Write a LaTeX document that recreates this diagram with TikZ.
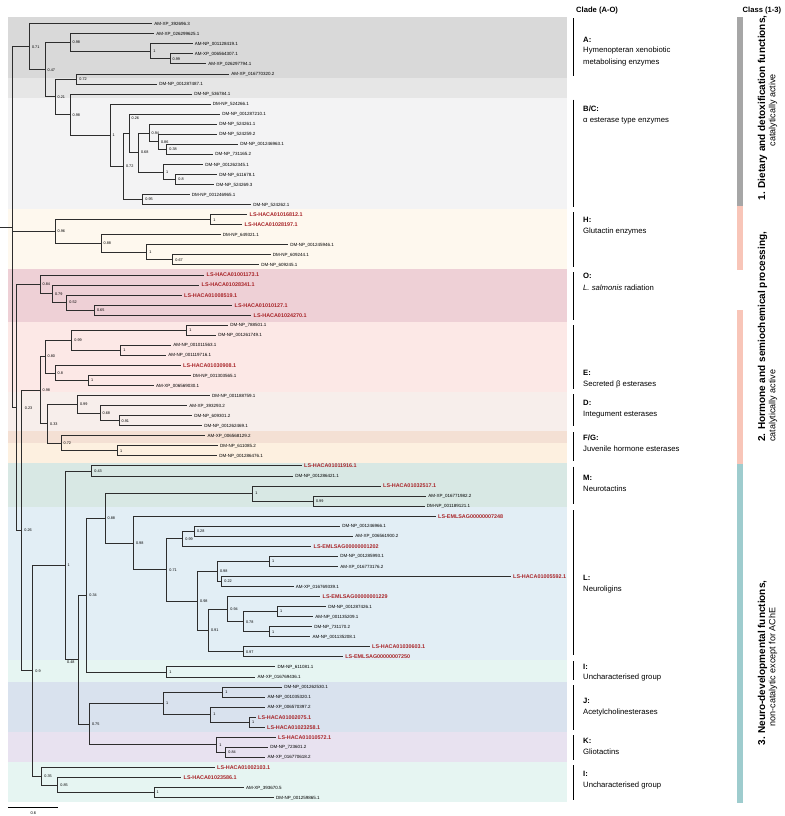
\documentclass[tikz,border=0pt]{standalone}
\usepackage{fontspec}
\setmainfont{Liberation Sans}
\definecolor{brc}{RGB}{45,45,45}
\definecolor{lsred}{RGB}{168,36,40}
\definecolor{bA}{RGB}{217,217,217}
\definecolor{bAm}{RGB}{230,230,230}
\definecolor{bBC}{RGB}{243,243,244}
\definecolor{bH}{RGB}{254,248,238}
\definecolor{bO}{RGB}{238,208,214}
\definecolor{bE}{RGB}{252,232,230}
\definecolor{bD}{RGB}{247,238,235}
\definecolor{bF}{RGB}{244,224,212}
\definecolor{bG}{RGB}{253,240,224}
\definecolor{bM}{RGB}{216,232,228}
\definecolor{bL}{RGB}{226,238,245}
\definecolor{bI}{RGB}{230,245,242}
\definecolor{bJ}{RGB}{217,226,238}
\definecolor{bK}{RGB}{232,226,240}
\definecolor{kgrey}{RGB}{166,166,166}
\definecolor{kpink}{RGB}{248,197,184}
\definecolor{kteal}{RGB}{158,204,206}
\tikzset{
  br/.style={draw=brc, line width=0.85pt},
  lb/.style={anchor=west, inner xsep=2.2pt, inner ysep=0pt, text height=3.2pt, text depth=0pt, font=\fontsize{4.5}{5}\selectfont},
  lr/.style={lb, inner xsep=2.5pt, text=lsred, text height=3.9pt, font=\fontsize{5.4}{6}\selectfont\bfseries},
  bs/.style={anchor=west, inner xsep=1pt, inner ysep=0pt, text height=2.7pt, text depth=0pt, font=\fontsize{3.8}{4}\selectfont, xshift=1.5pt},
  cl/.style={anchor=west, inner sep=0pt, text height=5.6pt, text depth=0pt, font=\fontsize{7.7}{9}\selectfont},
  bk/.style={draw=black, line width=0.9pt},
  ct/.style={inner sep=0pt, font=\fontsize{10}{11}\selectfont\bfseries, text height=7.3pt, text depth=0pt},
  cs/.style={inner sep=0pt, font=\fontsize{9}{10}\selectfont, text height=6.5pt, text depth=0pt},
  hd/.style={anchor=west, inner sep=0pt, font=\fontsize{7.6}{9}\selectfont\bfseries}
}
\newcommand\bnode[4]{\coordinate (#1) at (#2,#3);\node[bs] (#1t) at (#1) {#4};}
\newcommand\lfb[4]{\node[lb] (#1) at (#2,#3) {#4};}
\newcommand\lfr[4]{\node[lr] (#1) at (#2,#3) {#4};}
\begin{document}
\begin{tikzpicture}[x=1pt,y=-1pt]
\useasboundingbox (0,0) rectangle (784,816);
\fill[white] (0,0) rectangle (784,816);
% bands
\fill[bA] (8,17) rectangle (567,77.7);
\fill[bAm] (8,77.7) rectangle (567,97.7);
\fill[bBC] (8,97.7) rectangle (567,209);
\fill[bH] (8,209) rectangle (567,269.3);
\fill[bO] (8,269.3) rectangle (567,321.7);
\fill[bE] (8,321.7) rectangle (567,391.7);
\fill[bD] (8,391.7) rectangle (567,430.5);
\fill[bF] (8,430.5) rectangle (567,442.7);
\fill[bG] (8,442.7) rectangle (567,462.7);
\fill[bM] (8,462.7) rectangle (567,507.3);
\fill[bL] (8,507.3) rectangle (567,660);
\fill[bI] (8,660) rectangle (567,681.7);
\fill[bJ] (8,681.7) rectangle (567,732.3);
\fill[bK] (8,732.3) rectangle (567,761.7);
\fill[bI] (8,761.7) rectangle (567,801.7);
% leaves
\lfb{L1}{152}{23.70}{AM-XP\_392696.3}
\lfb{L2}{154}{33.75}{AM-XP\_026299625.1}
\lfb{L3}{192.5}{43.80}{AM-NP\_001128419.1}
\lfb{L4}{192.5}{53.85}{AM-XP\_006564307.1}
\lfb{L5}{206}{63.90}{AM-XP\_026297794.1}
\lfb{L6}{229}{73.95}{AM-XP\_016770320.2}
\lfb{L7}{157}{84.00}{DM-NP\_001287487.1}
\lfb{L8}{192}{94.05}{DM-NP\_536784.1}
\lfb{L9}{210.5}{104.10}{DM-NP\_524266.1}
\lfb{L10}{220}{114.15}{DM-NP\_001287210.1}
\lfb{L11}{217}{124.20}{DM-NP\_524261.1}
\lfb{L12}{217}{134.25}{DM-NP\_524259.2}
\lfb{L13}{238}{144.30}{DM-NP\_001246963.1}
\lfb{L14}{213}{154.35}{DM-NP\_731165.2}
\lfb{L15}{203}{164.40}{DM-NP\_001262345.1}
\lfb{L16}{217}{174.45}{DM-NP\_611678.1}
\lfb{L17}{214}{184.50}{DM-NP\_524269.3}
\lfb{L18}{189.5}{194.55}{DM-NP\_001246965.1}
\lfb{L19}{251}{204.60}{DM-NP\_524262.1}
\lfr{L20}{247}{214.65}{LS-HACA01016812.1}
\lfr{L21}{242}{224.70}{LS-HACA01028197.1}
\lfb{L22}{220.5}{234.75}{DM-NP\_649321.1}
\lfb{L23}{288}{244.80}{DM-NP\_001245946.1}
\lfb{L24}{270.5}{254.85}{DM-NP\_609244.1}
\lfb{L25}{259}{264.90}{DM-NP\_609245.1}
\lfr{L26}{204}{274.95}{LS-HACA01001173.1}
\lfr{L27}{199}{285.00}{LS-HACA01028341.1}
\lfr{L28}{181.5}{295.05}{LS-HACA01008519.1}
\lfr{L29}{232}{305.10}{LS-HACA01010127.1}
\lfr{L30}{251}{315.15}{LS-HACA01024270.1}
\lfb{L31}{228}{325.20}{DM-NP\_788501.1}
\lfb{L32}{216}{335.25}{DM-NP\_001261749.1}
\lfb{L33}{171}{345.30}{AM-NP\_001011563.1}
\lfb{L34}{166}{355.35}{AM-NP\_001119716.1}
\lfr{L35}{180.5}{365.40}{LS-HACA01030908.1}
\lfb{L36}{190.5}{375.45}{DM-NP\_001303565.1}
\lfb{L37}{153.7}{385.50}{AM-XP\_006569030.1}
\lfb{L38}{209.7}{395.55}{DM-NP\_001188759.1}
\lfb{L39}{187}{405.60}{AM-XP\_393293.2}
\lfb{L40}{192}{415.65}{DM-NP\_609301.2}
\lfb{L41}{202}{425.70}{DM-NP\_001262469.1}
\lfb{L42}{205.3}{435.75}{AM-XP\_006568129.2}
\lfb{L43}{217.7}{445.80}{DM-NP\_611085.2}
\lfb{L44}{217}{455.85}{DM-NP\_001286476.1}
\lfr{L45}{301.5}{465.90}{LS-HACA01011916.1}
\lfb{L46}{293}{475.95}{DM-NP\_001286421.1}
\lfr{L47}{380.5}{486.00}{LS-HACA01032517.1}
\lfb{L48}{426}{496.05}{AM-XP\_016771982.2}
\lfb{L49}{424.5}{506.10}{DM-NP\_001189121.1}
\lfr{L50}{435.5}{516.15}{LS-EMLSAG00000007248}
\lfb{L51}{340}{526.20}{DM-NP\_001246966.1}
\lfb{L52}{353}{536.25}{AM-XP\_006561900.2}
\lfr{L53}{311}{546.30}{LS-EMLSAG00000001202}
\lfb{L54}{338}{556.35}{DM-NP\_001285993.1}
\lfb{L55}{338}{566.40}{AM-XP\_016773176.2}
\lfr{L56}{510.5}{576.45}{LS-HACA01005592.1}
\lfb{L57}{293.5}{586.50}{AM-XP\_016769339.1}
\lfr{L58}{320}{596.55}{LS-EMLSAG00000001229}
\lfb{L59}{326}{606.60}{DM-NP\_001287426.1}
\lfb{L60}{313}{616.65}{AM-NP\_001135209.1}
\lfb{L61}{312}{626.70}{DM-NP\_731170.2}
\lfb{L62}{310.3}{636.75}{AM-NP\_001135208.1}
\lfr{L63}{369.5}{646.80}{LS-HACA01030603.1}
\lfr{L64}{342.7}{656.85}{LS-EMLSAG00000007250}
\lfb{L65}{275.3}{666.90}{DM-NP\_611081.1}
\lfb{L66}{255.3}{676.95}{AM-XP\_016769436.1}
\lfb{L67}{282}{687.00}{DM-NP\_001262530.1}
\lfb{L68}{265.3}{697.05}{AM-NP\_001035320.1}
\lfb{L69}{265.3}{707.10}{AM-XP\_006570397.2}
\lfr{L70}{255.5}{717.15}{LS-HACA01002075.1}
\lfr{L71}{264.5}{727.20}{LS-HACA01023258.1}
\lfr{L72}{275.5}{737.25}{LS-HACA01010572.1}
\lfb{L73}{268}{747.30}{DM-NP\_723601.2}
\lfb{L74}{265.3}{757.35}{AM-XP\_016770618.2}
\lfr{L75}{214.5}{767.40}{LS-HACA01002103.1}
\lfr{L76}{181}{777.45}{LS-HACA01023586.1}
\lfb{L77}{243.7}{787.50}{AM-XP\_393670.5}
\lfb{L78}{273.7}{797.55}{DM-NP\_001259865.1}
% internal nodes
\coordinate (r0) at (0,227.06);
\coordinate (root) at (12.7,227.06);
\bnode{n1}{29.3}{46.69}{0.71}
\bnode{n2}{45}{69.68}{0.47}
\bnode{n3}{70}{42.54}{0.98}
\bnode{n4}{150.7}{51.34}{1}
\bnode{n5}{170}{58.88}{0.99}
\bnode{n6}{55}{96.82}{0.21}
\bnode{n7}{76.7}{78.98}{0.72}
\bnode{n8}{70}{114.66}{0.98}
\bnode{n9}{110}{135.27}{1}
\bnode{n10}{123.3}{166.44}{0.72}
\coordinate (n11) at (129,133.31); \node[bs] (n11t) at (129,118.3) {0.26};
\bnode{n12}{138.3}{152.47}{0.68}
\bnode{n13}{149}{132.99}{0.94}
\bnode{n14}{158.3}{141.79}{0.86}
\bnode{n14b}{166.7}{149.33}{0.38}
\bnode{n15}{163.3}{171.94}{1}
\bnode{n16}{175.7}{179.48}{0.8}
\bnode{n17}{142.7}{199.58}{0.95}
\bnode{nH1}{55}{231.61}{0.96}
\bnode{nH2}{210.7}{219.68}{1}
\bnode{nH3}{101}{243.54}{0.88}
\bnode{nH4}{146.7}{252.34}{1}
\bnode{nH5}{172.7}{259.88}{0.67}
\coordinate (n023) at (16.7,407.42); \node[bs] (n023t) at (22.2,407.9) {0.23};
\bnode{nO1}{40}{284.37}{0.84}
\bnode{nO2}{52.3}{293.79}{0.79}
\bnode{nO3}{66.7}{302.59}{0.52}
\bnode{nO4}{94.3}{310.13}{0.65}
\bnode{n026}{21.7}{530.47}{0.26}
\bnode{nE0}{40}{390.21}{0.98}
\bnode{nE1}{45}{356.61}{0.80}
\bnode{nE2}{71.7}{340.28}{0.99}
\bnode{nE3}{186.7}{330.23}{1}
\bnode{nE4}{120.7}{350.33}{1}
\bnode{nE5}{55}{372.94}{0.8}
\bnode{nE6}{88.3}{380.48}{1}
\bnode{nD0}{47.5}{423.81}{0.33}
\bnode{nD1}{77.3}{404.34}{0.99}
\bnode{nD2}{100}{413.14}{0.68}
\bnode{nD3}{119}{420.68}{0.91}
\bnode{nF1}{61}{443.29}{0.72}
\bnode{nF2}{117.3}{450.83}{1}
\bnode{n09}{32.7}{670.73}{0.9}
\bnode{nN1}{65}{565.25}{1}
\bnode{nM1}{91.7}{470.93}{0.43}
\coordinate (n048) at (78.3,659.58); \node[bs] (n048t) at (64.5,662.5) {0.48};
\bnode{n034}{86.7}{595.1}{0.34}
\bnode{n088}{105}{518.27}{0.88}
\bnode{nM2}{252.7}{493.54}{1}
\bnode{nM3}{313.3}{501.08}{0.99}
\bnode{nL0}{133.3}{543.0}{0.98}
\bnode{nL1}{166.7}{569.86}{0.71}
\bnode{nL2}{182.7}{538.76}{0.99}
\bnode{nL3}{194.3}{531.23}{0.28}
\bnode{nL4}{197.5}{600.95}{0.98}
\bnode{nL5}{217.3}{571.43}{0.98}
\bnode{nL6}{269.3}{561.38}{1}
\bnode{nL7}{221.7}{581.48}{0.22}
\bnode{nL8}{208.3}{630.47}{0.91}
\bnode{nL9}{227.7}{609.11}{0.94}
\bnode{nL10}{243.3}{621.68}{0.78}
\bnode{nL11}{277.3}{611.63}{1}
\bnode{nL11b}{269.3}{631.73}{1}
\bnode{nL12}{243.3}{651.83}{0.97}
\bnode{nI0}{166.7}{671.93}{1}
\bnode{n075}{89.3}{724.06}{0.75}
\bnode{nJ1}{163.3}{703.33}{1}
\bnode{nJ2}{222.7}{692.03}{1}
\bnode{nJ3}{210.7}{714.64}{1}
\bnode{nJ4}{249.3}{722.18}{1}
\bnode{nK1}{216.7}{744.79}{1}
\bnode{nK2}{225.7}{752.33}{0.84}
\bnode{nI1}{41.7}{776.2}{0.35}
\bnode{nI2}{57.7}{784.99}{0.85}
\bnode{nI3}{154}{792.53}{1}
% branches
\draw[br] (r0) -- (root);
\draw[br] (root) |- (n1) (root) |- (nH1) (root) |- (n023);
\draw[br] (n1) |- (L1.west) (n1) |- (n2);
\draw[br] (n2) |- (n3) (n2) |- (n6);
\draw[br] (n3) |- (L2.west) (n3) |- (n4);
\draw[br] (n4) |- (L3.west) (n4) |- (n5);
\draw[br] (n5) |- (L4.west) (n5) |- (L5.west);
\draw[br] (n6) |- (n7) (n6) |- (n8);
\draw[br] (n7) |- (L6.west) (n7) |- (L7.west);
\draw[br] (n8) |- (L8.west) (n8) |- (n9);
\draw[br] (n9) |- (L9.west) (n9) |- (n10);
\draw[br] (n10) |- (n11) (n10) |- (n17);
\draw[br] (n11) |- (L10.west) (n11) |- (n12);
\draw[br] (n12) |- (n13) (n12) |- (n15);
\draw[br] (n13) |- (L11.west) (n13) |- (n14);
\draw[br] (n14) |- (L12.west) (n14) |- (n14b);
\draw[br] (n14b) |- (L13.west) (n14b) |- (L14.west);
\draw[br] (n15) |- (L15.west) (n15) |- (n16);
\draw[br] (n16) |- (L16.west) (n16) |- (L17.west);
\draw[br] (n17) |- (L18.west) (n17) |- (L19.west);
\draw[br] (nH1) |- (nH2) (nH1) |- (nH3);
\draw[br] (nH2) |- (L20.west) (nH2) |- (L21.west);
\draw[br] (nH3) |- (L22.west) (nH3) |- (nH4);
\draw[br] (nH4) |- (L23.west) (nH4) |- (nH5);
\draw[br] (nH5) |- (L24.west) (nH5) |- (L25.west);
\draw[br] (n023) |- (nO1) (n023) |- (n026);
\draw[br] (nO1) |- (L26.west) (nO1) |- (nO2);
\draw[br] (nO2) |- (L27.west) (nO2) |- (nO3);
\draw[br] (nO3) |- (L28.west) (nO3) |- (nO4);
\draw[br] (nO4) |- (L29.west) (nO4) |- (L30.west);
\draw[br] (n026) |- (nE0) (n026) |- (n09);
\draw[br] (nE0) |- (nE1) (nE0) |- (nD0);
\draw[br] (nE1) |- (nE2) (nE1) |- (nE5);
\draw[br] (nE2) |- (nE3) (nE2) |- (nE4);
\draw[br] (nE3) |- (L31.west) (nE3) |- (L32.west);
\draw[br] (nE4) |- (L33.west) (nE4) |- (L34.west);
\draw[br] (nE5) |- (L35.west) (nE5) |- (nE6);
\draw[br] (nE6) |- (L36.west) (nE6) |- (L37.west);
\draw[br] (nD0) |- (nD1) (nD0) |- (nF1);
\draw[br] (nD1) |- (L38.west) (nD1) |- (nD2);
\draw[br] (nD2) |- (L39.west) (nD2) |- (nD3);
\draw[br] (nD3) |- (L40.west) (nD3) |- (L41.west);
\draw[br] (nF1) |- (L42.west) (nF1) |- (nF2);
\draw[br] (nF2) |- (L43.west) (nF2) |- (L44.west);
\draw[br] (n09) |- (nN1) (n09) |- (nI1);
\draw[br] (nN1) |- (nM1) (nN1) |- (n048);
\draw[br] (nM1) |- (L45.west) (nM1) |- (L46.west);
\draw[br] (n048) |- (n034) (n048) |- (n075);
\draw[br] (n034) |- (n088) (n034) |- (nI0);
\draw[br] (n088) |- (nM2) (n088) |- (nL0);
\draw[br] (nM2) |- (L47.west) (nM2) |- (nM3);
\draw[br] (nM3) |- (L48.west) (nM3) |- (L49.west);
\draw[br] (nL0) |- (L50.west) (nL0) |- (nL1);
\draw[br] (nL1) |- (nL2) (nL1) |- (nL4);
\draw[br] (nL2) |- (nL3) (nL2) |- (L53.west);
\draw[br] (nL3) |- (L51.west) (nL3) |- (L52.west);
\draw[br] (nL4) |- (nL5) (nL4) |- (nL8);
\draw[br] (nL5) |- (nL6) (nL5) |- (nL7);
\draw[br] (nL6) |- (L54.west) (nL6) |- (L55.west);
\draw[br] (nL7) |- (L56.west) (nL7) |- (L57.west);
\draw[br] (nL8) |- (nL9) (nL8) |- (nL12);
\draw[br] (nL9) |- (L58.west) (nL9) |- (nL10);
\draw[br] (nL10) |- (nL11) (nL10) |- (nL11b);
\draw[br] (nL11) |- (L59.west) (nL11) |- (L60.west);
\draw[br] (nL11b) |- (L61.west) (nL11b) |- (L62.west);
\draw[br] (nL12) |- (L63.west) (nL12) |- (L64.west);
\draw[br] (nI0) |- (L65.west) (nI0) |- (L66.west);
\draw[br] (n075) |- (nJ1) (n075) |- (nK1);
\draw[br] (nJ1) |- (nJ2) (nJ1) |- (nJ3);
\draw[br] (nJ2) |- (L67.west) (nJ2) |- (L68.west);
\draw[br] (nJ3) |- (L69.west) (nJ3) |- (nJ4);
\draw[br] (nJ4) |- (L70.west) (nJ4) |- (L71.west);
\draw[br] (nK1) |- (L72.west) (nK1) |- (nK2);
\draw[br] (nK2) |- (L73.west) (nK2) |- (L74.west);
\draw[br] (nI1) |- (L75.west) (nI1) |- (nI2);
\draw[br] (nI2) |- (L76.west) (nI2) |- (nI3);
\draw[br] (nI3) |- (L77.west) (nI3) |- (L78.west);
% scale bar
\coordinate (sb1) at (8.3,807.7);
\coordinate (sb2) at (58.3,807.7);
\draw[line width=1.3pt] (sb1) -- (sb2);
\node[inner sep=0pt, anchor=north, font=\fontsize{4}{5}\selectfont] (sbl) at (33.3,811.3) {0.6};
% clade brackets
\draw[bk] (573.5,18.5) -- (573.5,76);
\draw[bk] (573.5,99.5) -- (573.5,207);
\draw[bk] (573.5,212) -- (573.5,267);
\draw[bk] (573.5,272) -- (573.5,319.5);
\draw[bk] (573.5,325) -- (573.5,389);
\draw[bk] (573.5,394) -- (573.5,426);
\draw[bk] (573.5,432) -- (573.5,461);
\draw[bk] (573.5,466.5) -- (573.5,504);
\draw[bk] (573.5,510) -- (573.5,655);
\draw[bk] (573.5,661) -- (573.5,680);
\draw[bk] (573.5,685) -- (573.5,730);
\draw[bk] (573.5,735) -- (573.5,759.5);
\draw[bk] (573.5,765) -- (573.5,800);
% headers
\node[hd] (hclade) at (576,11) {Clade (A-O)};
\node[hd] (hclass) at (742.5,11) {Class (1-3)};
% clade texts
\node[cl] (tA) at (583,39.3) {\bfseries A:};
\node[cl] (tA1) at (583,50) {Hymenopteran xenobiotic};
\node[cl] (tA2) at (583,61.5) {metabolising enzymes};
\node[cl] (tB) at (583,108.3) {\bfseries B/C:};
\node[cl] (tB1) at (583,120) {α esterase type enzymes};
\node[cl] (tH) at (583,220) {\bfseries H:};
\node[cl] (tH1) at (583,230.5) {Glutactin enzymes};
\node[cl] (tO) at (583,276) {\bfseries O:};
\node[cl] (tO1) at (583,287.5) {{\itshape L. salmonis} radiation};
\node[cl] (tE) at (583,372.5) {\bfseries E:};
\node[cl] (tE1) at (583,383.5) {Secreted β esterases};
\node[cl] (tD) at (583,402.5) {\bfseries D:};
\node[cl] (tD1) at (583,413.5) {Integument esterases};
\node[cl] (tF) at (583,437.5) {\bfseries F/G:};
\node[cl] (tF1) at (583,448.5) {Juvenile hormone esterases};
\node[cl] (tM) at (583,477.5) {\bfseries M:};
\node[cl] (tM1) at (583,488.5) {Neurotactins};
\node[cl] (tL) at (583,578) {\bfseries L:};
\node[cl] (tL1) at (583,589) {Neuroligins};
\node[cl] (tI) at (583,666.5) {\bfseries I:};
\node[cl] (tI1) at (583,677) {Uncharacterised group};
\node[cl] (tJ) at (583,700.5) {\bfseries J:};
\node[cl] (tJ1) at (583,711.5) {Acetylcholinesterases};
\node[cl] (tK) at (583,741) {\bfseries K:};
\node[cl] (tK1) at (583,752) {Gliotactins};
\node[cl] (tI2) at (583,774) {\bfseries I:};
\node[cl] (tI21) at (583,785) {Uncharacterised group};
% class bars
\fill[kgrey] (737,17) rectangle (742.5,206);
\fill[kpink] (737,206) rectangle (742.5,270);
\fill[kpink] (737,310) rectangle (742.5,464);
\fill[kteal] (737,464) rectangle (742.5,803);
% class texts
\node[ct, rotate=90] (c1a) at (761.5,108) {1. Dietary and detoxification functions,};
\node[cs, rotate=90] (c1b) at (772,110) {catalytically active};
\node[ct, rotate=90, anchor=west] (c2a) at (761.5,442) {2. Hormone and semiochemical processing,};
\node[cs, rotate=90, anchor=west] (c2b) at (772,442) {catalytically active};
\node[ct, rotate=90] (c3a) at (761.5,663) {3. Neuro-developmental functions,};
\node[cs, rotate=90] (c3b) at (772,667) {non-catalytic except for AChE};
\end{tikzpicture}
\end{document}
